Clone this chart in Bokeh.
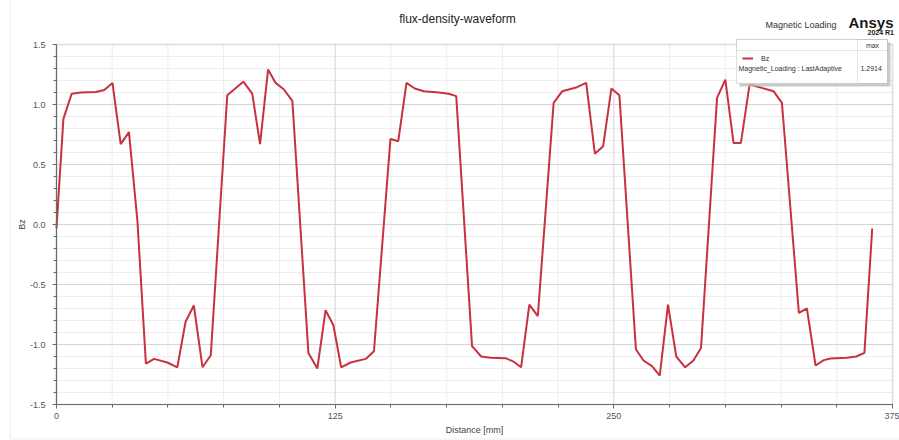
from bokeh.plotting import figure
from bokeh.models import (Range1d, FixedTicker, Label, BoxAnnotation, Legend, LegendItem, LinearAxis)
from bokeh.embed import file_html
from bokeh.resources import INLINE

# ---- data ----
distance_mm = [0, 3.1, 6.8, 10.8, 17.6, 21.4, 25.1, 28.8, 32.5, 36.3,
               40.1, 43.8, 49.7, 54.2, 57.9, 61.6, 65.5, 69.2, 76.6, 83.8,
               87.8, 91.3, 94.9, 98.3, 102.0, 105.8, 113.0, 117.0, 120.7, 124.2,
               127.7, 131.9, 138.7, 142.4, 149.8, 153.3, 157.0, 160.7, 164.8, 171.5,
               176.0, 179.3, 186.4, 190.5, 194.7, 201.4, 204.8, 208.4, 212.1, 215.9,
               223.0, 226.8, 233.5, 237.6, 241.5, 245.2, 248.9, 252.5, 259.9, 263.3,
               267.1, 270.6, 274.3, 278.0, 282.0, 285.7, 289.1, 296.3, 300.0, 303.7,
               307.0, 310.9, 321.7, 325.4, 333.0, 336.6, 340.5, 344.2, 347.2, 354.6,
               358.8, 362.4, 365.9]
bz = [-0.03, 0.88, 1.09, 1.10, 1.105, 1.12, 1.18, 0.67, 0.77, 0.03,
      -1.16, -1.12, -1.15, -1.19, -0.81, -0.675, -1.19, -1.09, 1.077, 1.19,
      1.09, 0.67, 1.2914, 1.18, 1.125, 1.03, -1.07, -1.20, -0.714, -0.84,
      -1.19, -1.15, -1.12, -1.056, 0.713, 0.694, 1.18, 1.133, 1.11, 1.10,
      1.09, 1.07, -1.014, -1.10, -1.11, -1.114, -1.14, -1.19, -0.667, -0.764,
      1.013, 1.11, 1.144, 1.18, 0.59, 0.652, 1.133, 1.077, -1.04, -1.133,
      -1.18, -1.26, -0.667, -1.10, -1.19, -1.133, -1.03, 1.055, 1.208, 0.68,
      0.68, 1.167, 1.11, 1.013, -0.737, -0.70, -1.175, -1.13, -1.117, -1.11,
      -1.10, -1.07, -0.033]
x_major_ticks = [0, 125, 250, 375]
x_minor_ticks = [0, 25, 50, 75, 100, 125, 150, 175, 200, 225, 250, 275, 300, 325, 350, 375]
y_major_ticks = [-1.5, -1.0, -0.5, 0.0, 0.5, 1.0, 1.5]
y_minor_ticks = [round(-1.5 + 0.1 * i, 1) for i in range(31)]
y_tick_labels = {-1.5: "-1.5", -1.0: "-1.0", -0.5: "-0.5", 0.0: "0.0", 0.5: "0.5", 1.0: "1.0", 1.5: "1.5"}
x_min, x_max = 0, 375
y_min, y_max = -1.5, 1.5
max_value = "1.2914"

FONT = "Liberation Sans"
W, H = 899, 440
L, R, T, B = 56, 892, 44, 404  # plot-area edges in canvas px

# The frame covers the whole canvas so that titles and the legend table are not clipped;
# the plot area itself is bounded by fixed-location axes.
sx = (R - L) / (x_max - x_min)
sy = (B - T) / (y_max - y_min)
p = figure(width=W, height=H, output_backend="svg", toolbar_location=None,
           x_range=Range1d(x_min - L / sx, x_max + (W - R) / sx),
           y_range=Range1d(y_min - (H - B) / sy, y_max + T / sy),
           x_axis_location=None, y_axis_location=None,
           min_border=0, min_border_left=0, min_border_right=0, min_border_top=0, min_border_bottom=0)
p.background_fill_color = "white"
p.border_fill_color = "white"
p.outline_line_color = None
p.xgrid.visible = False
p.ygrid.visible = False

# grid lines (minor, then major)
x_minor_only = [t for t in x_minor_ticks if t not in x_major_ticks]
y_minor_only = [t for t in y_minor_ticks if t not in y_major_ticks]
x_major_inner = [t for t in x_major_ticks if x_min < t < x_max]
y_major_inner = [t for t in y_major_ticks if y_min < t < y_max]
p.segment(x0=x_minor_only, x1=x_minor_only, y0=[y_min] * len(x_minor_only), y1=[y_max] * len(x_minor_only),
          line_color="#ededed", line_width=1, level="underlay")
p.segment(x0=[x_min] * len(y_minor_only), x1=[x_max] * len(y_minor_only), y0=y_minor_only, y1=y_minor_only,
          line_color="#ededed", line_width=1, level="underlay")
p.segment(x0=x_major_inner, x1=x_major_inner, y0=[y_min] * len(x_major_inner), y1=[y_max] * len(x_major_inner),
          line_color="#d6d6d6", line_width=1, level="underlay")
p.segment(x0=[x_min] * len(y_major_inner), x1=[x_max] * len(y_major_inner), y0=y_major_inner, y1=y_major_inner,
          line_color="#d6d6d6", line_width=1, level="underlay")

# plot-area outline
p.add_layout(BoxAnnotation(left=x_min, right=x_max, bottom=y_min, top=y_max,
                           fill_alpha=0, line_color="#8a8a8a", line_width=1.5, level="underlay"))

xt = FixedTicker(ticks=x_major_ticks, minor_ticks=x_minor_ticks)
yt = FixedTicker(ticks=y_major_ticks, minor_ticks=y_minor_ticks)
xaxis = LinearAxis(ticker=xt, fixed_location=y_min, bounds=(x_min, x_max), axis_label="Distance [mm]")
yaxis = LinearAxis(ticker=yt, fixed_location=x_min, bounds=(y_min, y_max), axis_label="Bz")
yaxis.major_label_overrides = y_tick_labels
for ax in (xaxis, yaxis):
    ax.axis_line_color = "#6a6a6a"
    ax.axis_line_width = 1.2
    ax.major_tick_line_color = "#6a6a6a"
    ax.minor_tick_line_color = "#6a6a6a"
    ax.major_tick_out = 4
    ax.major_tick_in = 0
    ax.minor_tick_out = 3
    ax.minor_tick_in = 0
    ax.major_label_text_font = FONT
    ax.major_label_text_font_size = "9px"
    ax.major_label_text_color = "#555555"
    ax.axis_label_text_font = FONT
    ax.axis_label_text_font_size = "9px"
    ax.axis_label_text_font_style = "normal"
    ax.axis_label_text_color = "#444444"
xaxis.major_label_standoff = 4
xaxis.axis_label_standoff = 3
yaxis.major_label_standoff = 7
yaxis.axis_label_standoff = 0
p.add_layout(xaxis, "below")
p.add_layout(yaxis, "left")

r = p.line(distance_mm, bz, line_color="#c8323f", line_width=2)

# helpers: canvas px -> screen units of the (full-canvas) frame
def fx(px):
    return px

def fy(py):
    return H - py

box_kw = dict(left_units="screen", right_units="screen", top_units="screen", bottom_units="screen")

# outer panel border
p.add_layout(BoxAnnotation(left=fx(10), right=fx(W + 20), bottom=fy(438.5), top=fy(-20),
                           fill_alpha=0, line_color="#c8c8c8", line_width=1, level="underlay", **box_kw))

def text(x, y, s, size, color="#222222", style="normal", align="left", baseline="middle"):
    p.add_layout(Label(x=fx(x), y=fy(y), x_units="screen", y_units="screen", text=s,
                       text_font=FONT, text_font_size=size, text_color=color,
                       text_font_style=style, text_align=align, text_baseline=baseline))

# title and branding
text(457, 18, "flux-density-waveform", "12px", color="#222222", align="center")
text(765, 24, "Magnetic Loading", "9px", color="#333333")
text(848, 22, "Ansys", "15px", color="#1a1a1a", style="bold")
text(867, 32, "2024 R1", "7px", color="#1a1a1a", style="bold")

# legend table box
p.add_layout(BoxAnnotation(left=fx(739), right=fx(890), top=fy(42), bottom=fy(86),
                           fill_color="#bdbdbd", fill_alpha=0.8, line_alpha=0, **box_kw))
p.add_layout(BoxAnnotation(left=fx(736), right=fx(887), top=fy(39), bottom=fy(83),
                           fill_color="white", fill_alpha=1, line_color="#9a9a9a", line_width=1, **box_kw))
p.add_layout(BoxAnnotation(left=fx(736), right=fx(887), top=fy(39), bottom=fy(50),
                           fill_alpha=0, line_color="#b0b0b0", line_width=1, **box_kw))
p.add_layout(BoxAnnotation(left=fx(857), right=fx(887), top=fy(39), bottom=fy(83),
                           fill_alpha=0, line_color="#b0b0b0", line_width=1, **box_kw))

legend = Legend(items=[LegendItem(label="Bz", renderers=[r])], location=(fx(742), fy(63)),
                orientation="vertical", padding=0, margin=0, spacing=0,
                glyph_width=11, glyph_height=10, label_standoff=8,
                label_text_font=FONT, label_text_font_size="7px", label_text_color="#333333",
                background_fill_alpha=0, border_line_alpha=0, label_height=10)
p.add_layout(legend, "center")

text(872, 44.5, "max", "7px", color="#333333", align="center")
text(738, 68, "Magnetic_Loading : LastAdaptive", "7px", color="#333333")
text(860, 68, max_value, "7px", color="#333333")

open("out.html", "w").write(file_html(p, INLINE))
